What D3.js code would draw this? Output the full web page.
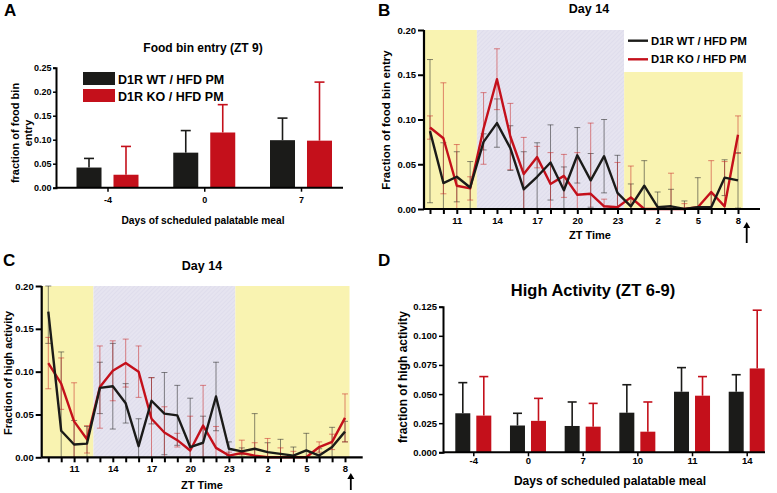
<!DOCTYPE html>
<html>
<head>
<meta charset="utf-8">
<script src="https://cdn.jsdelivr.net/npm/d3@7"></script>
<style>
  body { margin: 0; background: #fff; }
  svg { font-family: Arial, "Liberation Sans", sans-serif; font-weight: bold; }
  .axis path, .axis line { stroke: #000; }
  .axis text { font-weight: bold; fill: #000; }
</style>
</head>
<body>
<svg id="fig" width="777" height="493"></svg>
<script>
// ---- data ----
var seriesNames = ['D1R WT / HFD PM', 'D1R KO / HFD PM'];
var colors = ['#1b1b19', '#c4101b'];

// panel A: food bin entry at ZT 9
var daysA = ['-4', '0', '7'];
var wtA = [0.042, 0.073, 0.099];
var wtAerr = [0.019, 0.046, 0.046];
var koA = [0.027, 0.115, 0.098];
var koAerr = [0.059, 0.058, 0.122];

// panel D: high activity ZT 6-9
var daysD = ['-4', '0', '7', '10', '11', '14'];
var wtD = [0.0335, 0.023, 0.0226, 0.034, 0.052, 0.052];
var wtDerr = [0.0263, 0.0105, 0.0206, 0.024, 0.0207, 0.0146];
var koD = [0.0315, 0.027, 0.022, 0.0177, 0.0486, 0.072];
var koDerr = [0.0335, 0.0193, 0.020, 0.0255, 0.0164, 0.050];

// ZT hours, day 14 (ZT9 .. ZT8)
var ztHours = [9, 10, 11, 12, 13, 14, 15, 16, 17, 18, 19, 20, 21, 22, 23, 0, 1, 2, 3, 4, 5, 6, 7, 8];
var ztLabels = ['11', '14', '17', '20', '23', '2', '5', '8'];

// panel B: food bin entry, day 14
var wtB = [0.087, 0.029, 0.036, 0.024, 0.075, 0.096, 0.068, 0.022, 0.036, 0.052, 0.021, 0.060,
           0.032, 0.059, 0.018, 0.003, 0.026, 0.002, 0.003, 0.000, 0.002, 0.002, 0.035, 0.032];
var wtBerr = [0.080, 0.045, 0.028, 0.029, 0.009, 0.027, 0.025, 0.042, 0.038, 0.042, 0.026, 0.031,
              0.030, 0.041, 0.042, 0.025, 0.028, 0.017, 0.019, 0.009, 0.033, 0.014, 0.020, 0.031];
var koB = [0.091, 0.079, 0.026, 0.023, 0.090, 0.145, 0.081, 0.039, 0.058, 0.028, 0.037, 0.016,
           0.017, 0.003, 0.002, 0.013, 0.000, 0.000, 0.000, 0.000, 0.002, 0.019, 0.003, 0.083];
var koBerr = [0.013, 0.062, 0.046, 0.013, 0.040, 0.034, 0.037, 0.041, 0.012, 0.035, 0.024, 0.047,
              0.079, 0.008, 0.050, 0.035, 0.000, 0.000, 0.040, 0.006, 0.000, 0.035, 0.050, 0.021];

// panel C: high activity, day 14
var wtC = [0.170, 0.031, 0.015, 0.016, 0.081, 0.083, 0.063, 0.013, 0.066, 0.051, 0.049, 0.012,
           0.017, 0.071, 0.010, 0.007, 0.010, 0.006, 0.004, 0.002, 0.008, 0.002, 0.012, 0.030];
var wtCerr = [0.037, 0.092, 0.028, 0.020, 0.030, 0.050, 0.023, 0.032, 0.027, 0.048, 0.035, 0.057,
              0.031, 0.040, 0.008, 0.004, 0.041, 0.011, 0.017, 0.010, 0.020, 0.008, 0.023, 0.012];
var koC = [0.110, 0.086, 0.042, 0.021, 0.082, 0.101, 0.110, 0.100, 0.045, 0.029, 0.020, 0.008,
           0.037, 0.011, 0.002, 0.005, 0.002, 0.000, 0.000, 0.000, 0.000, 0.012, 0.018, 0.046];
var koCerr = [0.030, 0.030, 0.045, 0.016, 0.048, 0.035, 0.028, 0.030, 0.048, 0.030, 0.008, 0.040,
              0.047, 0.025, 0.004, 0.015, 0.015, 0.022, 0.011, 0.007, 0.000, 0.006, 0.009, 0.028];

// light / dark phases, in index units of ztHours
var phases = [
  { from: -0.5, to: 3.5, fill: '#f9f3b1' },
  { from: 3.5, to: 14.5, fill: 'url(#hatch)' },
  { from: 14.5, to: 23.35, fill: '#f9f3b1' }
];

var svg = d3.select('#fig');

// faint diagonal texture for the dark phase
var pat = svg.append('defs').append('pattern').attr('id', 'hatch')
  .attr('patternUnits', 'userSpaceOnUse').attr('width', 3).attr('height', 3)
  .attr('patternTransform', 'rotate(45)');
pat.append('rect').attr('width', 3).attr('height', 3).attr('fill', '#e6e4f0');
pat.append('line').attr('x1', 0).attr('x2', 0).attr('y1', 0).attr('y2', 3)
  .attr('stroke', '#d9d6e8').attr('stroke-width', 1);

function letter(t, x, y) {
  svg.append('text').attr('x', x).attr('y', y).attr('font-size', 17).text(t);
}

function barPanel(o) {
  var g = svg.append('g');
  var y = d3.scaleLinear().domain([0, o.ymax]).range([o.y0, o.y1]);
  var x = d3.scalePoint().domain(o.days).range([o.c0, o.c1]);
  var sub = d3.scaleBand().domain([0, 1]).range([-o.half, o.half]).paddingInner(o.pad);
  var series = [o.wt, o.ko], errs = [o.wtErr, o.koErr];

  series.forEach(function(vals, s) {
    var bars = g.append('g');
    var bx = function(d, i) { return x(o.days[i]) + sub(s); };
    bars.selectAll('line.err').data(vals).enter().append('line')
      .attr('x1', function(d, i) { return bx(d, i) + sub.bandwidth() / 2; })
      .attr('x2', function(d, i) { return bx(d, i) + sub.bandwidth() / 2; })
      .attr('y1', function(d) { return y(d); })
      .attr('y2', function(d, i) { return y(d + errs[s][i]); })
      .attr('stroke', colors[s]).attr('stroke-width', 1.6);
    bars.selectAll('line.cap').data(vals).enter().append('line')
      .attr('x1', function(d, i) { return bx(d, i) + sub.bandwidth() / 2 - o.cap; })
      .attr('x2', function(d, i) { return bx(d, i) + sub.bandwidth() / 2 + o.cap; })
      .attr('y1', function(d, i) { return y(d + errs[s][i]); })
      .attr('y2', function(d, i) { return y(d + errs[s][i]); })
      .attr('stroke', colors[s]).attr('stroke-width', 1.6);
    bars.selectAll('rect').data(vals).enter().append('rect')
      .attr('x', bx)
      .attr('y', function(d) { return y(d); })
      .attr('width', sub.bandwidth())
      .attr('height', function(d) { return y(0) - y(d); })
      .attr('fill', colors[s]);
  });

  var ya = g.append('g').attr('class', 'axis').attr('transform', 'translate(' + o.xa + ',0)')
    .call(d3.axisLeft(y).tickValues(o.yticks).tickFormat(d3.format(o.fmt)).tickSize(o.ytick).tickPadding(o.ypad));
  ya.select('.domain').attr('stroke-width', 2);
  ya.selectAll('.tick line').attr('stroke-width', 1.5);
  ya.selectAll('text').attr('font-size', o.tickFont);

  var xa = g.append('g').attr('class', 'axis').attr('transform', 'translate(0,' + o.y0 + ')')
    .call(d3.axisBottom(x).tickSize(4).tickPadding(o.xpad));
  xa.select('.domain').attr('d', 'M' + o.xa + ',0H' + o.xe).attr('stroke-width', 2);
  xa.selectAll('.tick line').attr('stroke-width', 1.5);
  xa.selectAll('text').attr('font-size', o.tickFont);
  return g;
}

function linePanel(o) {
  var g = svg.append('g');
  var x = d3.scaleLinear().domain([0, ztHours.length - 1]).range([o.x0, o.x1]);
  var y = d3.scaleLinear().domain([0, 0.2]).range([o.y0, o.y1]);

  g.selectAll('rect.phase').data(phases).enter().append('rect')
    .attr('x', function(d) { return Math.max(o.xa, x(d.from)); })
    .attr('width', function(d) { return x(d.to) - Math.max(o.xa, x(d.from)); })
    .attr('y', y(0.2)).attr('height', y(0) - y(0.2))
    .attr('fill', function(d) { return d.fill; });

  var errColors = ['rgba(40,40,40,0.55)', 'rgba(200,40,40,0.55)'];
  var series = [o.wt, o.ko], errs = [o.wtErr, o.koErr];
  series.forEach(function(vals, s) {
    var eg = g.append('g').attr('stroke', errColors[s]).attr('stroke-width', 1);
    vals.forEach(function(v, i) {
      if (!errs[s][i]) return;
      var hi = Math.min(0.2, v + errs[s][i]), lo = Math.max(0, v - errs[s][i]);
      var cx = x(i);
      eg.append('line').attr('x1', cx).attr('x2', cx).attr('y1', y(lo)).attr('y2', y(hi));
      [hi, lo].forEach(function(c) {
        if (c <= 0) return;
        eg.append('line').attr('x1', cx - 3).attr('x2', cx + 3).attr('y1', y(c)).attr('y2', y(c));
      });
    });
  });

  var line = d3.line().x(function(d, i) { return x(i); }).y(function(d) { return y(d); });
  [1, 0].forEach(function(s) {
    g.append('path').datum(series[s]).attr('d', line)
      .attr('fill', 'none').attr('stroke', colors[s]).attr('stroke-width', 2.4)
      .attr('stroke-linejoin', 'round');
  });

  var ya = g.append('g').attr('class', 'axis').attr('transform', 'translate(' + o.xa + ',0)')
    .call(d3.axisLeft(y).tickValues([0, 0.05, 0.1, 0.15, 0.2]).tickFormat(d3.format('.2f'))
      .tickSize(6).tickPadding(2));
  ya.select('.domain').attr('d', 'M0,' + y(0) + 'V' + y(0.2)).attr('stroke-width', 2.2);
  ya.selectAll('.tick line').attr('stroke-width', 2);
  ya.selectAll('text').attr('font-size', 9.5);

  var xa = g.append('g').attr('class', 'axis').attr('transform', 'translate(0,' + o.y0 + ')')
    .call(d3.axisBottom(x).tickValues(d3.range(ztHours.length)).tickSize(5).tickPadding(3)
      .tickFormat(function(i) { return ztLabels.indexOf(String(ztHours[i])) >= 0 && i > 1 ? ztHours[i] : ''; }));
  xa.select('.domain').attr('d', 'M' + o.xa + ',0H' + o.xe).attr('stroke-width', 2.2);
  xa.selectAll('.tick line').attr('stroke-width', 2);
  xa.selectAll('text').attr('font-size', 9.5);

  // meal arrow
  var ax = x(o.arrowAt);
  g.append('line').attr('x1', ax).attr('x2', ax).attr('y1', o.arrowY + o.arrowLen).attr('y2', o.arrowY + 4)
    .attr('stroke', '#000').attr('stroke-width', 1.8);
  g.append('path').attr('d', 'M' + (ax - 3.5) + ',' + (o.arrowY + 6) + 'L' + ax + ',' + o.arrowY + 'L' + (ax + 3.5) + ',' + (o.arrowY + 6) + 'Z')
    .attr('fill', '#000');
  return g;
}

// ---- panel A ----
letter('A', 4, 16);
barPanel({ days: daysA, wt: wtA, wtErr: wtAerr, ko: koA, koErr: koAerr,
  ymax: 0.25, y0: 187.7, y1: 67.7, c0: 107.5, c1: 301, half: 31, pad: 0.324, cap: 5,
  xa: 56, xe: 343, yticks: [0, 0.05, 0.1, 0.15, 0.2, 0.25], fmt: '.2f', tickFont: 9, xpad: 5,
  ytick: 3, ypad: 1.5 });
svg.append('text').attr('x', 203).attr('y', 52).attr('text-anchor', 'middle').attr('font-size', 12)
  .text('Food bin entry (ZT 9)');
[0, 1].forEach(function(s) {
  svg.append('rect').attr('x', 83).attr('y', 72 + s * 17).attr('width', 32).attr('height', 13).attr('fill', colors[s]);
  svg.append('text').attr('x', 118).attr('y', 83.5 + s * 17).attr('font-size', 12.5).text(seriesNames[s]);
});
svg.append('text').attr('transform', 'translate(18.5,133) rotate(-90)').attr('text-anchor', 'middle')
  .attr('font-size', 11).text('fraction of food bin');
svg.append('text').attr('transform', 'translate(32,133) rotate(-90)').attr('text-anchor', 'middle')
  .attr('font-size', 11).text('entry');
svg.append('text').attr('x', 203).attr('y', 224).attr('text-anchor', 'middle').attr('font-size', 10.2)
  .text('Days of scheduled palatable meal');

// ---- panel B ----
letter('B', 378, 16);
linePanel({ wt: wtB, wtErr: wtBerr, ko: koB, koErr: koBerr,
  x0: 430, x1: 738, y0: 209, y1: 30, xa: 424, xe: 760, arrowAt: 23.65, arrowY: 222, arrowLen: 21 });
svg.append('rect').attr('x', 624).attr('y', 29).attr('width', 153).attr('height', 43).attr('fill', '#fff');
[0, 1].forEach(function(s) {
  svg.append('line').attr('x1', 628).attr('x2', 648).attr('y1', 40.7 + s * 18.6).attr('y2', 40.7 + s * 18.6)
    .attr('stroke', colors[s]).attr('stroke-width', 2.4);
  svg.append('text').attr('x', 651).attr('y', 44.7 + s * 18.6).attr('font-size', 11.3).text(seriesNames[s]);
});
svg.append('text').attr('x', 589).attr('y', 12.5).attr('text-anchor', 'middle').attr('font-size', 12.5).text('Day 14');
svg.append('text').attr('transform', 'translate(390,120) rotate(-90)').attr('text-anchor', 'middle')
  .attr('font-size', 11.5).text('Fraction of food bin entry');
svg.append('text').attr('x', 590).attr('y', 239).attr('text-anchor', 'middle').attr('font-size', 11).text('ZT Time');

// ---- panel C ----
letter('C', 3, 266);
linePanel({ wt: wtC, wtErr: wtCerr, ko: koC, koErr: koCerr,
  x0: 48.3, x1: 345, y0: 457.3, y1: 286, xa: 41.7, xe: 362.7, arrowAt: 23.45, arrowY: 473, arrowLen: 17 });
svg.append('text').attr('x', 202).attr('y', 270).attr('text-anchor', 'middle').attr('font-size', 12.5).text('Day 14');
svg.append('text').attr('transform', 'translate(12,373) rotate(-90)').attr('text-anchor', 'middle')
  .attr('font-size', 11).text('Fraction of high activity');
svg.append('text').attr('x', 202).attr('y', 489).attr('text-anchor', 'middle').attr('font-size', 11).text('ZT Time');

// ---- panel D ----
letter('D', 378, 266);
barPanel({ days: daysD, wt: wtD, wtErr: wtDerr, ko: koD, koErr: koDerr,
  ymax: 0.125, y0: 452.3, y1: 306.7, c0: 473.3, c1: 746.7, half: 18, pad: 0.286, cap: 4.5,
  xa: 443, xe: 765, yticks: [0, 0.025, 0.05, 0.075, 0.1, 0.125], fmt: '.3f', tickFont: 9.5, xpad: 1,
  ytick: 4, ypad: 2 });
svg.append('text').attr('x', 593).attr('y', 296).attr('text-anchor', 'middle').attr('font-size', 16.5)
  .text('High Activity (ZT 6-9)');
svg.append('text').attr('transform', 'translate(407,377) rotate(-90)').attr('text-anchor', 'middle')
  .attr('font-size', 12).text('fraction of high activity');
svg.append('text').attr('x', 610).attr('y', 485).attr('text-anchor', 'middle').attr('font-size', 12)
  .text('Days of scheduled palatable meal');
</script>
</body>
</html>
